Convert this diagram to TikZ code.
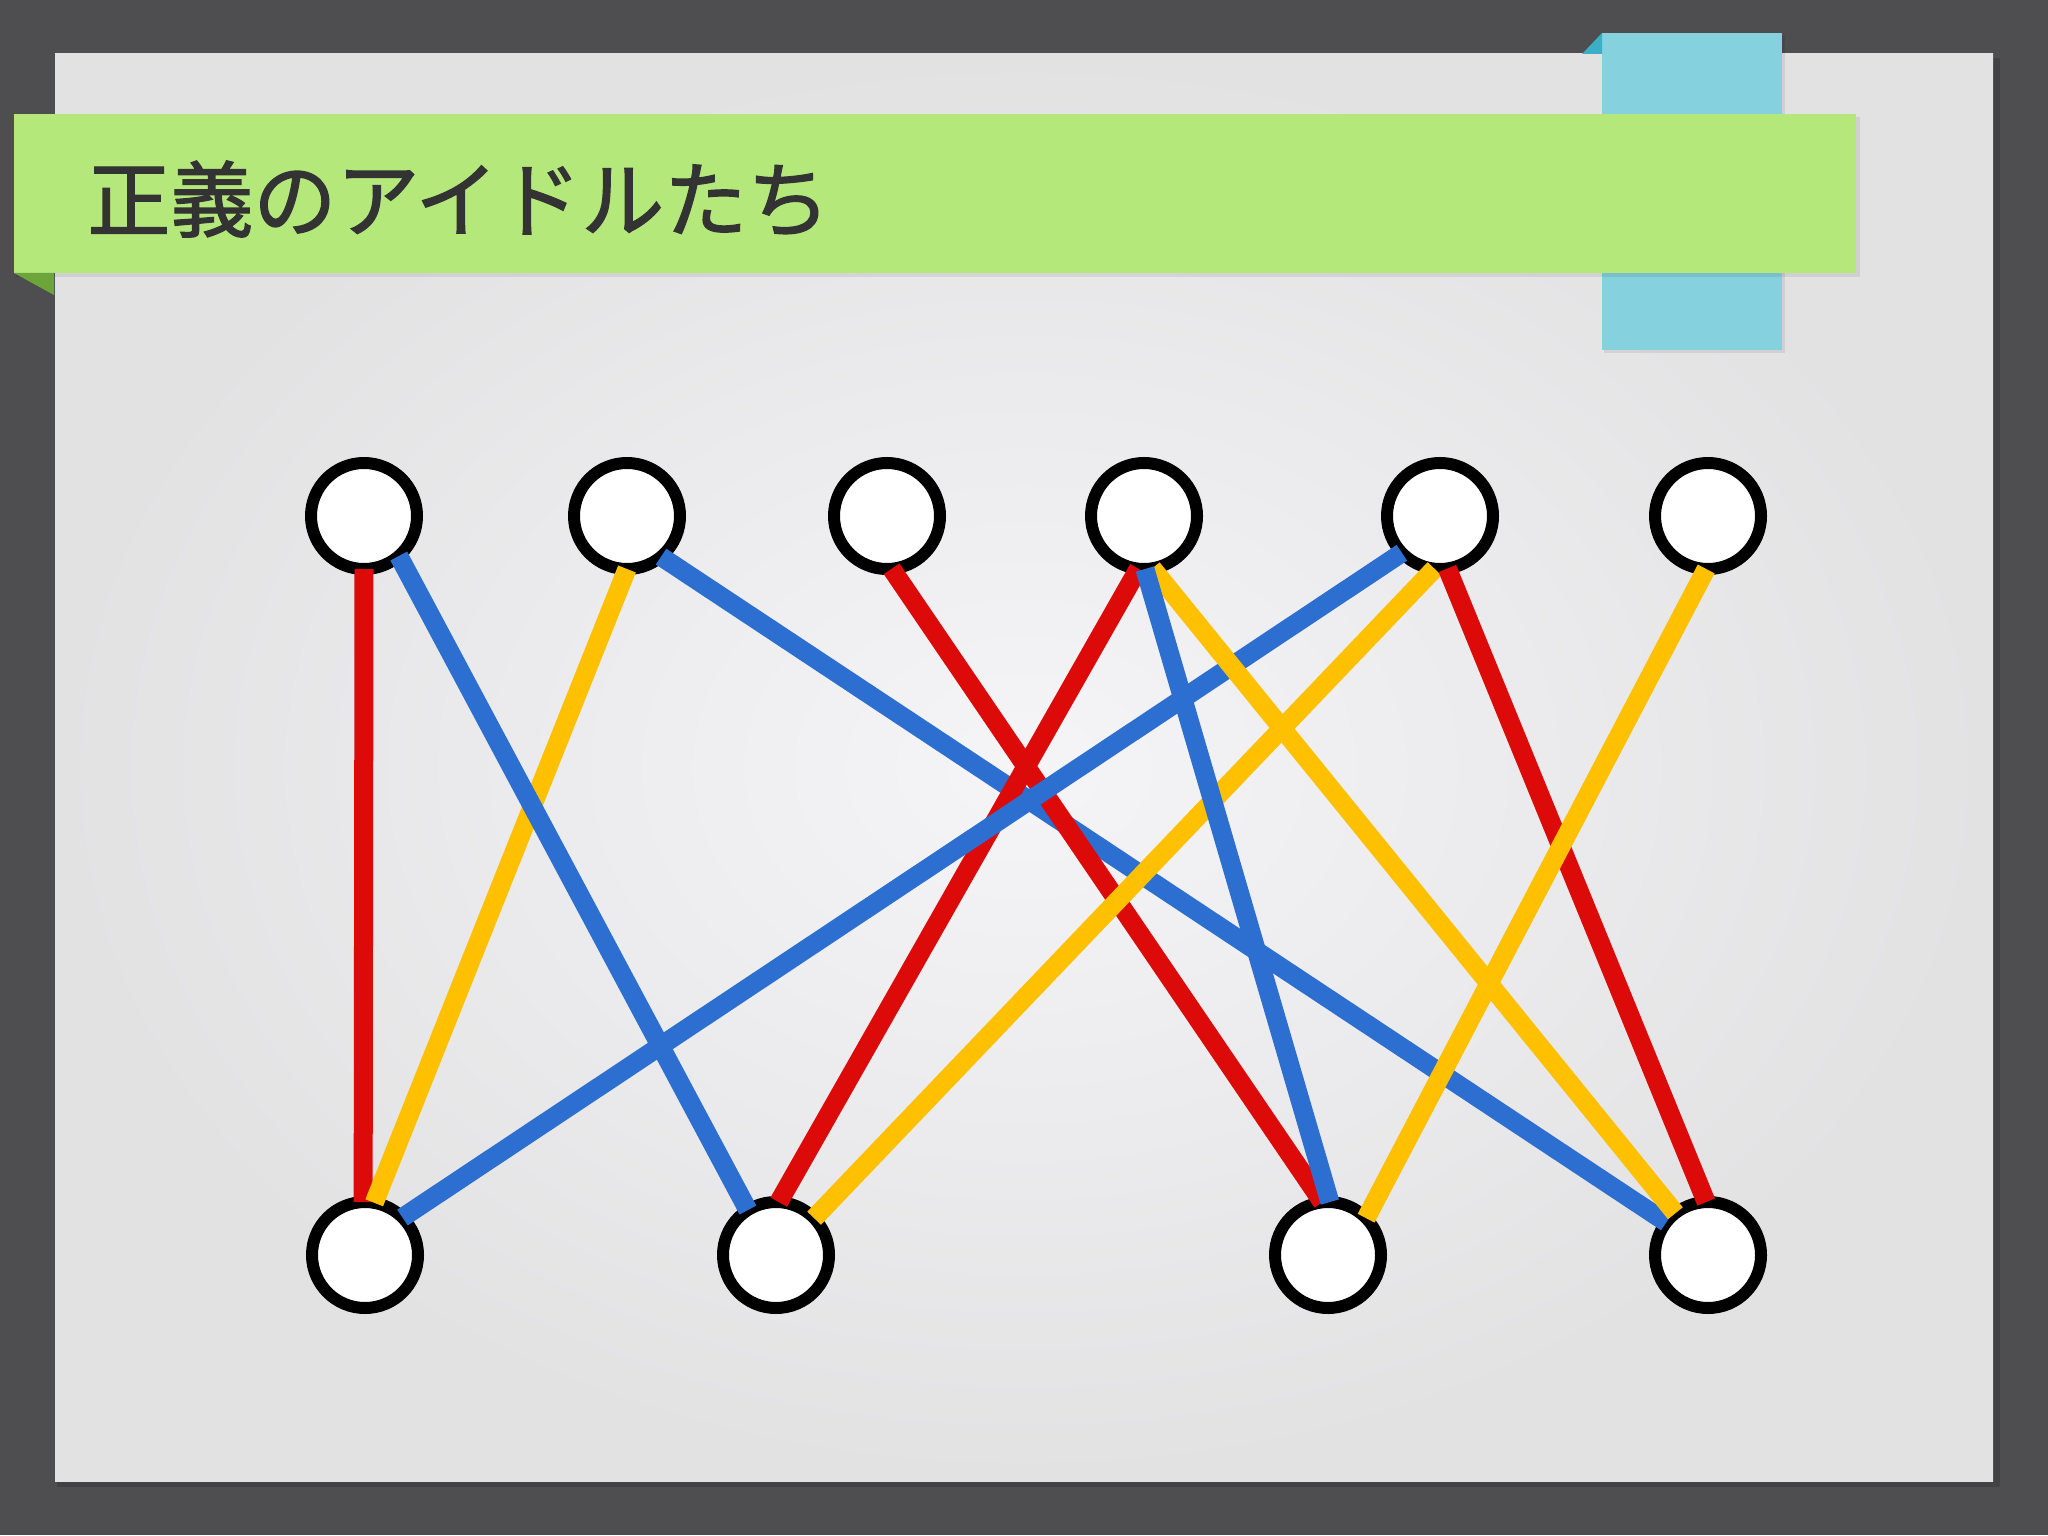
\documentclass[tikz,border=0pt]{standalone}
\usepackage{fontspec}
\newfontfamily\jpfont[FakeBold=1.6]{Noto Sans CJK JP}
\usetikzlibrary{shadings}
\definecolor{bgdark}{HTML}{4E4E50}
\definecolor{pagein}{HTML}{F5F4F7}
\definecolor{pageout}{HTML}{E2E2E3}
\definecolor{bannergreen}{HTML}{B5E87A}
\definecolor{folddgreen}{HTML}{6EA53B}
\definecolor{tabblue}{HTML}{85D1DE}
\definecolor{folddblue}{HTML}{3CAFC6}
\definecolor{titlegray}{HTML}{333333}
\definecolor{edgered}{HTML}{DD0A0A}
\definecolor{edgeblue}{HTML}{2C6FD1}
\definecolor{edgeyellow}{HTML}{FFC000}
\tikzset{
  vertex/.style={circle, draw=black, fill=white, line width=6pt, minimum size=53pt, inner sep=0pt, outer sep=0pt},
  edgeline/.style={line width=9.5pt},
  redge/.style={edgeline, draw=edgered},
  bedge/.style={edgeline, draw=edgeblue},
  yedge/.style={edgeline, draw=edgeyellow},
}
\begin{document}
\begin{tikzpicture}[x=0.5pt, y=-0.5pt]
\useasboundingbox (0,0) rectangle (2048,1535);
% background
\fill[bgdark] (0,0) rectangle (2048,1535);
% page shadow
\fill[black, opacity=0.15] (57,58) rectangle (2000,1487);
% page
\shade[inner color=pagein, outer color=pageout] (55,54) rectangle (1993,1481);
% blue tab
\fill[black, opacity=0.08] (1604,36) rectangle (1785,353);
\fill[tabblue] (1602,33) rectangle (1782,350);
\fill[folddblue] (1602,33) -- (1602,54) -- (1582,54) -- cycle;
% green banner
\fill[black, opacity=0.08] (16,117) rectangle (1860,277);
\fill[bannergreen] (14,114) rectangle (1856,273);
\fill[folddgreen] (14,273) -- (54,273) -- (54,295) -- cycle;
\node[anchor=west, inner sep=0pt, text=titlegray, font=\jpfont\fontsize{41.5pt}{48pt}\selectfont] (title) at (87,199) {正義のアイドルたち};
% vertices
\node[vertex] (t1) at (364,516) {};
\node[vertex] (t2) at (627,516) {};
\node[vertex] (t3) at (887,516) {};
\node[vertex] (t4) at (1144,516) {};
\node[vertex] (t5) at (1440,516) {};
\node[vertex] (t6) at (1708,516) {};
\node[vertex] (b1) at (365,1255) {};
\node[vertex] (b2) at (776,1255) {};
\node[vertex] (b3) at (1328,1255) {};
\node[vertex] (b4) at (1708,1255) {};
% edges
\draw[bedge] (t2.310) -- (b4.142);
\draw[redge] (t1.270) -- (b1.92);
\draw[yedge] (t2.270) -- (b1.80);
\draw[bedge] (t1.311) -- (b2.122);
\draw[redge] (t3.275) -- (b3.96);
\draw[redge] (t4.264) -- (b2.87);
\draw[bedge] (t5.224) -- (b1.45);
\draw[yedge] (t5.264) -- (b2.44);
\draw[yedge] (t4.279) -- (b4.128);
\draw[bedge] (t4.271) -- (b3.88);
\draw[redge] (t5.278) -- (b4.92);
\draw[yedge] (t6.268) -- (b3.44);
\end{tikzpicture}
\end{document}
